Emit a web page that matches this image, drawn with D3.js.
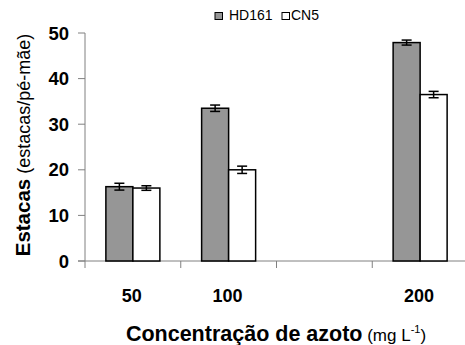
<!DOCTYPE html>
<html><head><meta charset="utf-8">
<script src="https://cdn.jsdelivr.net/npm/d3@7"></script>
<style>body{margin:0;background:#fff}svg{display:block}text{font-family:"Liberation Sans",Arial,sans-serif}</style>
</head><body><svg id="c" width="465" height="345"></svg>
<script>
const categories = ["50", "100", "", "200"];
const series = ["HD161", "CN5"];
const hd161 = [16.3, 33.5, null, 47.9];
const hd161Err = [0.75, 0.7, null, 0.55];
const cn5 = [16.0, 20.0, null, 36.5];
const cn5Err = [0.5, 0.8, null, 0.7];
const yTicks = [0, 10, 20, 30, 40, 50];
const colors = {HD161: "#969696", CN5: "#ffffff"};

const svg = d3.select("#c");
const x = d3.scaleBand().domain(categories).range([85, 468]).paddingInner(0).paddingOuter(0);
const y = d3.scaleLinear().domain([0, 50]).range([261, 33]);
const bw = x.bandwidth();
const xs = d3.scaleBand().domain(series).range([bw / 2 - 27, bw / 2 + 27]);

const data = [];
categories.forEach((c, i) => {
  if (hd161[i] != null) data.push({c, s: "HD161", v: hd161[i], e: hd161Err[i]});
  if (cn5[i] != null) data.push({c, s: "CN5", v: cn5[i], e: cn5Err[i]});
});

// axes
const axisColor = "#808080";
svg.append("line").attr("x1", 85).attr("x2", 85).attr("y1", y(50)).attr("y2", y(0)).attr("stroke", axisColor).attr("stroke-width", 1);
svg.append("line").attr("x1", 78).attr("x2", 468).attr("y1", y(0)).attr("y2", y(0)).attr("stroke", axisColor).attr("stroke-width", 1);
yTicks.forEach(t => {
  svg.append("line").attr("x1", 78).attr("x2", 85).attr("y1", y(t)).attr("y2", y(t)).attr("stroke", axisColor);
  svg.append("text").attr("x", 69).attr("y", y(t) + 6.5).attr("text-anchor", "end")
    .attr("font-size", 18.5).attr("font-weight", "bold").text(t);
});
categories.forEach(c => {
  svg.append("line").attr("x1", x(c)).attr("x2", x(c)).attr("y1", y(0)).attr("y2", y(0) + 7).attr("stroke", axisColor);
  svg.append("text").attr("x", x(c) + bw / 2 - 1).attr("y", 302).attr("text-anchor", "middle")
    .attr("font-size", 18).attr("font-weight", "bold").text(c);
});

// bars
svg.append("g").selectAll("rect").data(data).join("rect")
  .attr("x", d => x(d.c) + xs(d.s))
  .attr("width", xs.bandwidth())
  .attr("y", d => y(d.v))
  .attr("height", d => y(0) - y(d.v))
  .attr("fill", d => colors[d.s])
  .attr("stroke", "#000").attr("stroke-width", 1.5);

// error bars
const eg = svg.append("g").attr("stroke", "#000").attr("stroke-width", 1.5);
data.forEach(d => {
  const cx = x(d.c) + xs(d.s) + xs.bandwidth() / 2;
  eg.append("line").attr("x1", cx).attr("x2", cx).attr("y1", y(d.v + d.e)).attr("y2", y(d.v - d.e));
  eg.append("line").attr("x1", cx - 5).attr("x2", cx + 5).attr("y1", y(d.v + d.e)).attr("y2", y(d.v + d.e));
  eg.append("line").attr("x1", cx - 5).attr("x2", cx + 5).attr("y1", y(d.v - d.e)).attr("y2", y(d.v - d.e));
});

// legend
const leg = [{s: "HD161", x: 215, tx: 229}, {s: "CN5", x: 282, tx: 291}];
leg.forEach(l => {
  svg.append("rect").attr("x", l.x).attr("y", 12.5).attr("width", 7.5).attr("height", 7)
    .attr("fill", colors[l.s]).attr("stroke", "#000").attr("stroke-width", 1);
  svg.append("text").attr("x", l.tx).attr("y", 19.5).attr("font-size", 14).text(l.s);
});

// axis titles
const xt = svg.append("text").attr("x", 276).attr("y", 341).attr("text-anchor", "middle");
xt.append("tspan").attr("font-size", 21.5).attr("font-weight", "bold").text("Concentração de azoto");
xt.append("tspan").attr("font-size", 17).text(" (mg L");
xt.append("tspan").attr("font-size", 11).attr("dy", -8).text("-1");
xt.append("tspan").attr("font-size", 17).attr("dy", 8).text(")");

const yt = svg.append("text").attr("transform", "translate(30,145) rotate(-90)").attr("text-anchor", "middle");
yt.append("tspan").attr("font-size", 20.5).attr("font-weight", "bold").text("Estacas");
yt.append("tspan").attr("font-size", 18).text(" (estacas/pé-mãe)");
</script></body></html>
